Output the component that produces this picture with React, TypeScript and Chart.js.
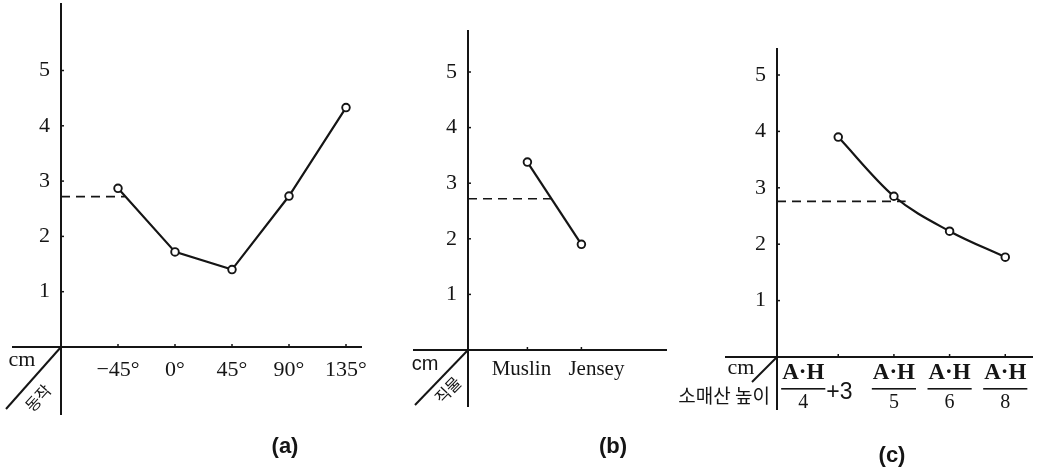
import React, { useEffect, useRef } from "react";
import { Chart, registerables } from "chart.js";

Chart.register(...registerables);

// ---------------- data ----------------
const yTickValues = [1, 2, 3, 4, 5];

const motionLabels = ["−45°", "0°", "45°", "90°", "135°"];
const motionValues = [2.87, 1.72, 1.4, 2.73, 4.33];

const fabricLabels = ["Muslin", "Jensey"];
const fabricValues = [3.38, 1.9];

const capNumerators = ["A·H", "A·H", "A·H", "A·H"];
const capDenominators = ["4", "5", "6", "8"];
const capSuffixes = ["+3", "", "", ""];
const capValues = [3.9, 2.85, 2.23, 1.77];

const referenceLevels = [2.72, 2.72, 2.76];
const referenceEnds = [1.12, 1.46, 2.21];

const axisTitles = ["동작", "직물", "소매산 높이"];
const panelCaptions = ["(a)", "(b)", "(c)"];

// ---------------- style ----------------
const H = 473;
const INK = "#151515";
const SERIF = '"Liberation Serif", "DejaVu Serif", serif';
const SANS = '"Liberation Sans", "DejaVu Sans", sans-serif';
const KR = '"Noto Sans CJK KR", sans-serif';
const Y_W = 30;
const X_H = 40;

type Spec = {
  key: string;
  left: number;
  width: number;
  axisX: number;
  zeroY: number;
  unitX: number;
  unitY: number;
  xMin: number;
  xMax: number;
  yMax: number;
  values: number[];
  level: number;
  levelEnd: number;
  smooth: boolean;
  xLabels: string[] | null;
  axisTop: number;
  axisBottom: number;
  xAxisLeft: number;
  xAxisRight: number;
  diag: [number, number];
  cm: { x: number; y: number; font: string };
  titleDraw: (ctx: CanvasRenderingContext2D, left: number) => void;
  caption: string;
  captionPos: [number, number];
  drawLabels?: (ctx: CanvasRenderingContext2D, xs: any, left: number) => void;
};

function rotatedTitle(text: string, px: number, py: number, angle: number) {
  return (ctx: CanvasRenderingContext2D, left: number) => {
    ctx.save();
    ctx.translate(px - left, py);
    ctx.rotate(angle);
    ctx.font = `16px ${KR}`;
    ctx.textAlign = "center";
    ctx.textBaseline = "middle";
    ctx.fillText(text, 0, 0);
    ctx.restore();
  };
}

const specs: Spec[] = [
  {
    key: "a",
    left: 0,
    width: 390,
    axisX: 61,
    zeroY: 347,
    unitX: 57,
    unitY: 55.3,
    xMin: 0,
    xMax: 5.5,
    yMax: 6,
    values: motionValues,
    level: referenceLevels[0],
    levelEnd: referenceEnds[0],
    smooth: false,
    xLabels: motionLabels,
    axisTop: 3,
    axisBottom: 415,
    xAxisLeft: 12,
    xAxisRight: 362,
    diag: [6, 409],
    cm: { x: 22, y: 360, font: `22px ${SERIF}` },
    titleDraw: rotatedTitle(axisTitles[0], 38, 398, -0.84),
    caption: panelCaptions[0],
    captionPos: [285, 447],
  },
  {
    key: "b",
    left: 385,
    width: 295,
    axisX: 468,
    zeroY: 350,
    unitX: 54,
    unitY: 55.6,
    xMin: -0.1,
    xMax: 3.7,
    yMax: 6,
    values: fabricValues,
    level: referenceLevels[1],
    levelEnd: referenceEnds[1],
    smooth: false,
    xLabels: null,
    axisTop: 30,
    axisBottom: 407,
    xAxisLeft: 413,
    xAxisRight: 667,
    diag: [415, 405],
    cm: { x: 425, y: 364, font: `20px ${SANS}` },
    titleDraw: rotatedTitle(axisTitles[1], 448, 390, -0.8),
    caption: panelCaptions[1],
    captionPos: [613, 447],
    drawLabels: (ctx, xs) => {
      const shifts = [-6, 15];
      ctx.font = `21px ${SERIF}`;
      ctx.textAlign = "center";
      ctx.textBaseline = "middle";
      fabricLabels.forEach((lab, i) => {
        ctx.fillText(lab, xs.getPixelForValue(i + 1) + shifts[i], 369);
      });
    },
  },
  {
    key: "c",
    left: 650,
    width: 389,
    axisX: 777,
    zeroY: 357,
    unitX: 56.3,
    unitY: 56.4,
    xMin: -0.1,
    xMax: 4.5,
    yMax: 6,
    values: capValues,
    level: referenceLevels[2],
    levelEnd: referenceEnds[2],
    smooth: true,
    xLabels: null,
    axisTop: 48,
    axisBottom: 410,
    xAxisLeft: 725,
    xAxisRight: 1033,
    diag: [752, 382],
    cm: { x: 741, y: 368, font: `22px ${SERIF}` },
    titleDraw: (ctx, left) => {
      ctx.font = `19px ${KR}`;
      ctx.textAlign = "right";
      ctx.textBaseline = "middle";
      ctx.fillText(axisTitles[2], 770 - left, 396);
    },
    caption: panelCaptions[2],
    captionPos: [892, 456],
    drawLabels: (ctx, xs) => {
      capNumerators.forEach((num, i) => {
        const px = xs.getPixelForValue(i + 1);
        const hasSuffix = capSuffixes[i] !== "";
        const cx = hasSuffix ? px - 35 : px;
        ctx.textAlign = "center";
        ctx.textBaseline = "middle";
        ctx.font = `bold 23px ${SERIF}`;
        ctx.fillText(num, cx, 373);
        const w = ctx.measureText(num).width + 2;
        ctx.fillRect(cx - w / 2, 388, w, 1.6);
        ctx.font = `20px ${SERIF}`;
        ctx.fillText(capDenominators[i], cx, 403);
        if (hasSuffix) {
          ctx.font = `23px ${SANS}`;
          ctx.textAlign = "left";
          ctx.fillText(capSuffixes[i], cx + w / 2 + 1, 393);
        }
      });
    },
  },
];

function makeDecor(spec: Spec) {
  return {
    id: "decor-" + spec.key,
    afterDraw(chart: any) {
      const ctx: CanvasRenderingContext2D = chart.ctx;
      const xs = chart.scales.x;
      const ys = chart.scales.y;
      const L = spec.left;
      const ox = xs.getPixelForValue(spec.xMin);
      const oy = ys.getPixelForValue(0);
      ctx.save();
      ctx.strokeStyle = INK;
      ctx.fillStyle = INK;
      ctx.lineCap = "butt";
      const line = (x1: number, y1: number, x2: number, y2: number, w = 2) => {
        ctx.lineWidth = w;
        ctx.beginPath();
        ctx.moveTo(x1, y1);
        ctx.lineTo(x2, y2);
        ctx.stroke();
      };
      // axes
      line(ox, spec.axisTop, ox, spec.axisBottom, 2);
      line(spec.xAxisLeft - L, oy, spec.xAxisRight - L, oy, 2);
      line(ox, oy, spec.diag[0] - L, spec.diag[1], 2);
      // small tick marks
      yTickValues.forEach((v) => {
        const py = ys.getPixelForValue(v);
        line(ox, py, ox + 3, py, 1.5);
      });
      spec.values.forEach((_, i) => {
        const px = xs.getPixelForValue(i + 1);
        line(px, oy, px, oy - 3, 1.5);
      });
      // cm
      ctx.font = spec.cm.font;
      ctx.textAlign = "center";
      ctx.textBaseline = "middle";
      ctx.fillText("cm", spec.cm.x - L, spec.cm.y);
      // axis title
      spec.titleDraw(ctx, L);
      // custom x labels
      if (spec.drawLabels) spec.drawLabels(ctx, xs, L);
      // caption
      ctx.font = `bold 22px ${SANS}`;
      ctx.textAlign = "center";
      ctx.textBaseline = "middle";
      ctx.fillText(spec.caption, spec.captionPos[0] - L, spec.captionPos[1]);
      ctx.restore();
    },
  };
}

function Panel({ spec }: { spec: Spec }) {
  const ref = useRef<HTMLCanvasElement>(null);
  useEffect(() => {
    const canvas = ref.current;
    if (!canvas) return;
    const chartLeft = spec.axisX - spec.left;
    const chartTop = spec.zeroY - spec.yMax * spec.unitY;
    const chartRight = chartLeft + (spec.xMax - spec.xMin) * spec.unitX;
    const chart = new Chart(canvas, {
      type: "line",
      data: {
        datasets: [
          {
            data: spec.values.map((v, i) => ({ x: i + 1, y: v })),
            borderColor: INK,
            borderWidth: 2.2,
            pointRadius: 3.8,
            pointBorderWidth: 1.9,
            pointBackgroundColor: "#ffffff",
            pointBorderColor: INK,
            cubicInterpolationMode: spec.smooth ? "monotone" : "default",
            tension: 0,
          },
          {
            data: [
              { x: spec.xMin, y: spec.level },
              { x: spec.levelEnd, y: spec.level },
            ],
            borderColor: INK,
            borderWidth: 1.6,
            borderDash: [9, 6],
            pointRadius: 0,
          },
        ],
      },
      options: {
        responsive: false,
        animation: false,
        devicePixelRatio: 1,
        layout: {
          padding: {
            left: chartLeft - Y_W,
            top: chartTop,
            right: spec.width - chartRight,
            bottom: H - spec.zeroY - X_H,
          },
        },
        plugins: { legend: { display: false }, tooltip: { enabled: false } },
        scales: {
          x: {
            type: "linear",
            min: spec.xMin,
            max: spec.xMax,
            grid: { display: false },
            border: { display: false },
            afterFit: (s: any) => {
              s.height = X_H;
            },
            afterBuildTicks: (s: any) => {
              s.ticks = spec.values.map((_, i) => ({ value: i + 1 }));
            },
            ticks: {
              display: spec.xLabels !== null,
              autoSkip: false,
              maxRotation: 0,
              padding: 2,
              color: INK,
              font: { family: SERIF, size: 22 },
              callback: (v: any) =>
                spec.xLabels ? spec.xLabels[Math.round(Number(v)) - 1] ?? "" : "",
            },
          },
          y: {
            min: 0,
            max: spec.yMax,
            grid: { display: false },
            border: { display: false },
            afterFit: (s: any) => {
              s.width = Y_W;
            },
            afterBuildTicks: (s: any) => {
              s.ticks = yTickValues.map((v) => ({ value: v }));
            },
            ticks: {
              padding: 3,
              color: INK,
              font: { family: SERIF, size: 22, lineHeight: 1 },
              callback: (v: any) => String(v),
            },
          },
        },
      },
      plugins: [makeDecor(spec)],
    } as any);
    return () => chart.destroy();
  }, [spec]);
  return (
    <canvas
      ref={ref}
      width={spec.width}
      height={H}
      style={{ position: "absolute", left: spec.left, top: 0, width: spec.width, height: H }}
    />
  );
}

export default function App() {
  return (
    <div
      style={{
        position: "fixed",
        left: 0,
        top: 0,
        width: 1039,
        height: H,
        background: "#ffffff",
        overflow: "hidden",
      }}
    >
      {specs.map((s) => (
        <Panel key={s.key} spec={s} />
      ))}
    </div>
  );
}
